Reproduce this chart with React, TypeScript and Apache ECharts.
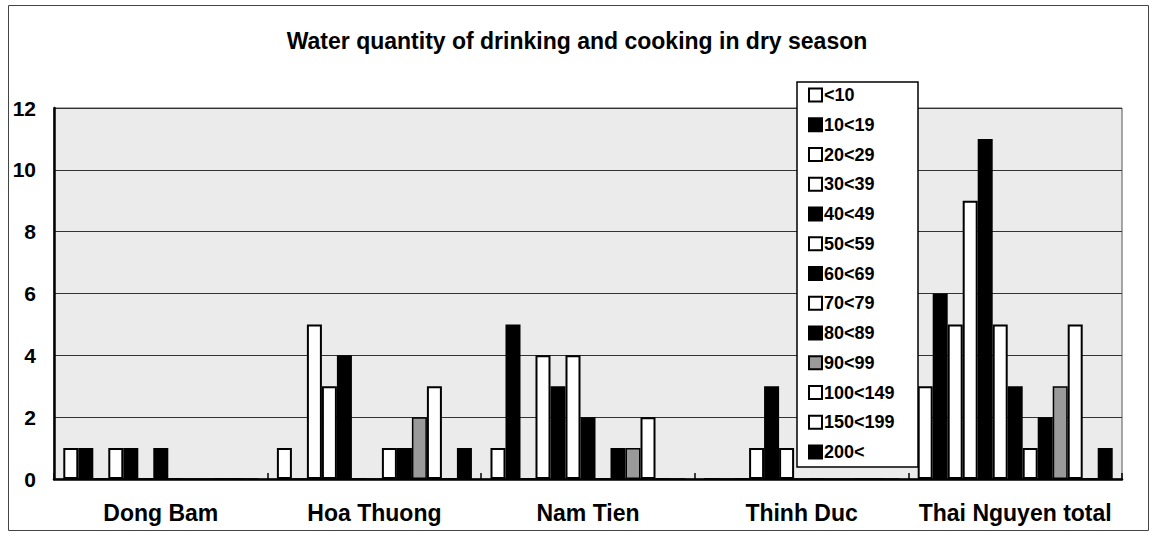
import React, { useEffect, useRef } from "react";
import * as echarts from "echarts";

const categories = ["Dong Bam", "Hoa Thuong", "Nam Tien", "Thinh Duc", "Thai Nguyen total"];
const seriesNames = ["<10", "10<19", "20<29", "30<39", "40<49", "50<59", "60<69", "70<79", "80<89", "90<99", "100<149", "150<199", "200<"];
const seriesFill = ["white", "black", "white", "white", "black", "white", "black", "white", "black", "dotted", "white", "white", "black"];

const v_lt10 = [1, 1, 1, 0, 3];
const v_10_19 = [1, 0, 5, 0, 6];
const v_20_29 = [0, 5, 0, 0, 5];
const v_30_39 = [1, 3, 4, 1, 9];
const v_40_49 = [1, 4, 3, 3, 11];
const v_50_59 = [0, 0, 4, 1, 5];
const v_60_69 = [1, 0, 2, 0, 3];
const v_70_79 = [0, 1, 0, 0, 1];
const v_80_89 = [0, 1, 1, 0, 2];
const v_90_99 = [0, 2, 1, 0, 3];
const v_100_149 = [0, 3, 2, 0, 5];
const v_150_199 = [0, 0, 0, 0, 0];
const v_200 = [0, 1, 0, 0, 1];

const seriesValues = [v_lt10, v_10_19, v_20_29, v_30_39, v_40_49, v_50_59, v_60_69, v_70_79, v_80_89, v_90_99, v_100_149, v_150_199, v_200];

const yTicks = { min: 0, max: 12, interval: 2 };
const title = "Water quantity of drinking and cooking in dry season";

const FONT = "'Liberation Sans', Arial, sans-serif";

function styleFor(kind: string) {
  if (kind === "black") return { color: "#000", borderColor: "#000", borderWidth: 1.5 };
  if (kind === "dotted") return { color: "#9a9a9a", borderColor: "#000", borderWidth: 1.5 };
  return { color: "#fff", borderColor: "#000", borderWidth: 2 };
}

export default function App() {
  const ref = useRef<HTMLDivElement>(null);
  useEffect(() => {
    if (!ref.current) return;
    const chart = echarts.init(ref.current, undefined, { renderer: "svg" });
    chart.setOption({
      animation: false,
      backgroundColor: "#fff",
      title: {
        text: title,
        left: "center",
        top: 24,
        textStyle: { fontFamily: FONT, fontSize: 23, fontWeight: "bold", color: "#000" },
      },
      grid: {
        left: 54,
        right: 32,
        top: 108,
        bottom: 58,
        show: true,
        backgroundColor: "#ebebeb",
        borderColor: "#555",
        borderWidth: 1,
      },
      legend: {
        orient: "vertical",
        left: 808,
        top: 85,
        icon: "rect",
        itemWidth: 13,
        itemHeight: 13,
        itemGap: 9.75,
        padding: 0,
        z: 10,
        textStyle: { fontFamily: FONT, fontSize: 18, fontWeight: "bold", color: "#000", lineHeight: 20, padding: [0, 0, 0, -3] },
        data: seriesNames,
      },
      graphic: [
        {
          type: "rect",
          z: 5,
          shape: { x: 797, y: 82, width: 121, height: 385 },
          style: { fill: "#fff", stroke: "#000", lineWidth: 1.5 },
        },
        {
          type: "rect",
          z: 0,
          silent: true,
          shape: { x: 8.5, y: 5.5, width: 1140, height: 525 },
          style: { fill: "none", stroke: "#444", lineWidth: 1 },
        },
      ],
      xAxis: {
        type: "category",
        data: categories,
        axisLine: { lineStyle: { color: "#000", width: 2.5 } },
        axisTick: { show: true, inside: true, length: 6, lineStyle: { color: "#000", width: 1.5 } },
        axisLabel: { interval: 0, fontFamily: FONT, fontSize: 23, fontWeight: "bold", color: "#000", margin: 22 },
      },
      yAxis: {
        type: "value",
        min: yTicks.min,
        max: yTicks.max,
        interval: yTicks.interval,
        axisLine: { show: true, lineStyle: { color: "#000", width: 2.5 } },
        axisTick: { show: false },
        axisLabel: { fontFamily: FONT, fontSize: 21, fontWeight: "bold", color: "#000", margin: 18 },
        splitLine: { show: true, lineStyle: { color: "#333", width: 1 } },
      },
      series: seriesNames.map((name, i) => ({
        name,
        type: "bar",
        data: seriesValues[i],
        barGap: "0%",
        barCategoryGap: "8.7%",
        itemStyle: styleFor(seriesFill[i]),
      })),
    });
    return () => chart.dispose();
  }, []);
  return <div ref={ref} style={{ width: 1154, height: 537, position: "absolute", left: 0, top: 0 }} />;
}
